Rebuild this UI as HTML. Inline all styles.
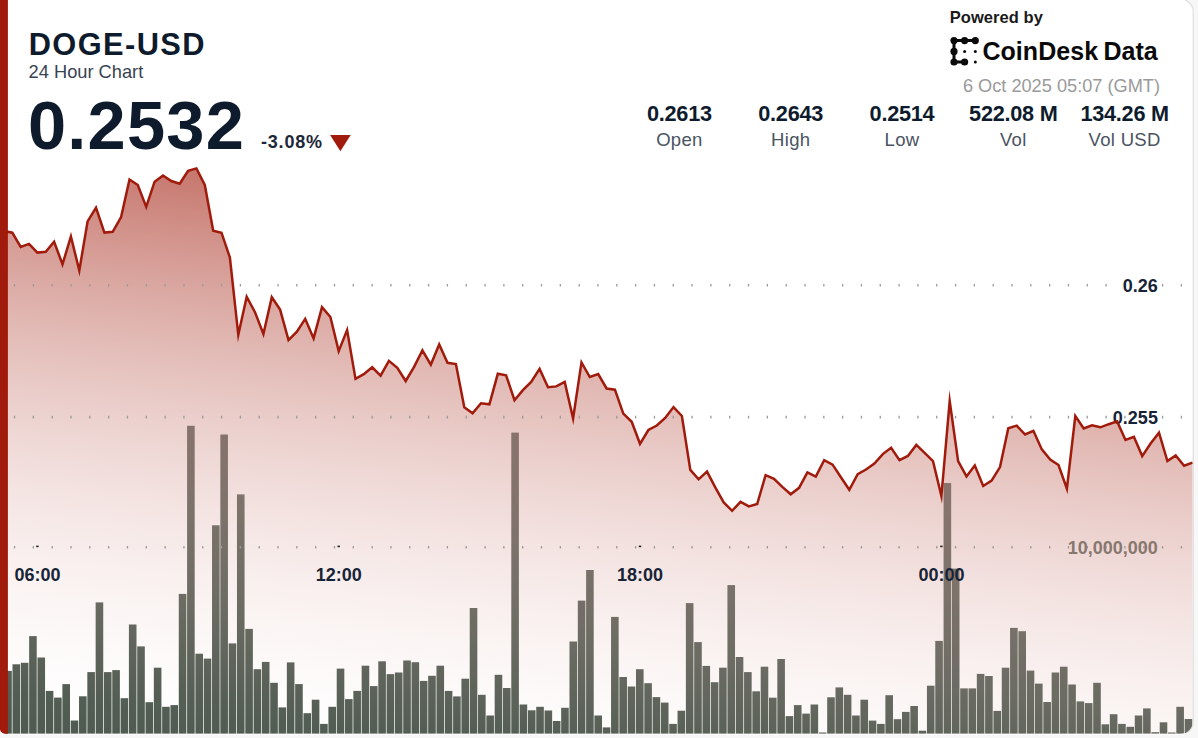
<!DOCTYPE html>
<html><head><meta charset="utf-8"><title>DOGE-USD 24 Hour Chart</title>
<style>
html,body{margin:0;padding:0;background:#f7f7f7;}
body{width:1198px;height:738px;overflow:hidden;position:relative;font-family:"Liberation Sans",sans-serif;}
svg{position:absolute;left:0;top:0;display:block;}
text{font-family:"Liberation Sans",sans-serif;}
.ax{font-size:18px;font-weight:bold;fill:#172336;}
.sv{font-size:21.7px;font-weight:bold;fill:#0e1b2c;text-anchor:middle;letter-spacing:-0.25px;}
.sl{font-size:18.5px;fill:#4a5361;text-anchor:middle;letter-spacing:0.3px;}
</style></head><body>
<svg width="1198" height="738" viewBox="0 0 1198 738">
<defs>
<clipPath id="card"><path d="M-2,-3 L1180,-1.2 A12.8,12.8 0 0 1 1192.8,11.6 L1192.8,721.7 A12,12 0 0 1 1180.8,733.7 L6,733.7 Q-0.3,733.7 -0.3,727.2 L-2,-3 Z"/></clipPath>
<linearGradient id="ag" x1="100" y1="168" x2="35.2" y2="764.6" gradientUnits="userSpaceOnUse">
<stop offset="0.00" stop-color="#a01b0b" stop-opacity="0.5840"/><stop offset="0.05" stop-color="#a01b0b" stop-opacity="0.5271"/><stop offset="0.10" stop-color="#a01b0b" stop-opacity="0.4730"/><stop offset="0.15" stop-color="#a01b0b" stop-opacity="0.4219"/><stop offset="0.20" stop-color="#a01b0b" stop-opacity="0.3738"/><stop offset="0.25" stop-color="#a01b0b" stop-opacity="0.3285"/><stop offset="0.30" stop-color="#a01b0b" stop-opacity="0.2862"/><stop offset="0.35" stop-color="#a01b0b" stop-opacity="0.2467"/><stop offset="0.40" stop-color="#a01b0b" stop-opacity="0.2102"/><stop offset="0.45" stop-color="#a01b0b" stop-opacity="0.1767"/><stop offset="0.50" stop-color="#a01b0b" stop-opacity="0.1460"/><stop offset="0.55" stop-color="#a01b0b" stop-opacity="0.1183"/><stop offset="0.60" stop-color="#a01b0b" stop-opacity="0.0934"/><stop offset="0.65" stop-color="#a01b0b" stop-opacity="0.0715"/><stop offset="0.70" stop-color="#a01b0b" stop-opacity="0.0526"/><stop offset="0.75" stop-color="#a01b0b" stop-opacity="0.0365"/><stop offset="0.80" stop-color="#a01b0b" stop-opacity="0.0234"/><stop offset="0.85" stop-color="#a01b0b" stop-opacity="0.0131"/><stop offset="0.90" stop-color="#a01b0b" stop-opacity="0.0058"/><stop offset="0.95" stop-color="#a01b0b" stop-opacity="0.0015"/><stop offset="1.00" stop-color="#a01b0b" stop-opacity="0.0000"/>
</linearGradient>
<linearGradient id="bg" x1="100" y1="168" x2="35.2" y2="764.6" gradientUnits="userSpaceOnUse">
<stop offset="0.30" stop-color="#8a746d"/>
<stop offset="0.418" stop-color="#85736c"/>
<stop offset="0.542" stop-color="#7d736b"/>
<stop offset="0.699" stop-color="#6c6c63"/>
<stop offset="0.882" stop-color="#525d53"/>
<stop offset="1" stop-color="#4c584d"/>
</linearGradient>
</defs>
<rect x="0" y="0" width="1198" height="738" fill="#f7f7f7"/>
<path d="M-2,-3 L1180,-1.2 A13.3,13.3 0 0 1 1193.3,12.1 L1193.3,722.2 A12.8,12.8 0 0 1 1180.5,735 L6,735 Q-0.3,735 -0.3,728 L-2,-3 Z" fill="#ffffff"/>
<path d="M1140,-1.2 L1180,-1.2 A13.3,13.3 0 0 1 1193.3,12.1 L1193.3,722.2 A12.8,12.8 0 0 1 1186,733" fill="none" stroke="#e1e1e1" stroke-width="1.3"/>
<g clip-path="url(#card)">
<path d="M3.9,733.8 L3.9,231.0 L12.3,232.7 L20.7,246.9 L29.0,243.9 L37.4,252.6 L45.8,251.8 L54.1,241.8 L62.5,264.3 L70.9,236.5 L79.3,270.5 L87.6,221.4 L96.0,207.6 L104.4,232.6 L112.7,231.8 L121.1,217.0 L129.5,179.5 L137.8,185.0 L146.2,206.9 L154.6,181.7 L163.0,175.5 L171.3,181.0 L179.7,183.7 L188.1,170.8 L196.4,168.4 L204.8,185.0 L213.2,230.8 L221.5,232.7 L229.9,257.6 L238.3,334.8 L246.7,296.7 L255.0,312.2 L263.4,334.0 L271.8,297.2 L280.1,309.6 L288.5,340.1 L296.9,331.6 L305.2,318.8 L313.6,338.4 L322.0,307.1 L330.4,317.0 L338.7,351.1 L347.1,330.0 L355.5,378.9 L363.8,374.2 L372.2,367.3 L380.6,375.6 L388.9,360.9 L397.3,367.8 L405.7,381.0 L414.1,366.8 L422.4,350.4 L430.8,364.7 L439.2,344.4 L447.5,362.8 L455.9,364.1 L464.3,407.3 L472.6,413.3 L481.0,403.3 L489.4,404.3 L497.8,373.8 L506.1,375.3 L514.5,400.2 L522.9,390.2 L531.2,382.0 L539.6,368.9 L548.0,387.2 L556.3,386.4 L564.7,381.9 L573.1,418.5 L581.5,362.4 L589.8,377.0 L598.2,374.1 L606.6,388.5 L614.9,389.7 L623.3,413.6 L631.7,421.8 L640.0,443.8 L648.4,430.0 L656.8,425.5 L665.2,418.0 L673.5,407.1 L681.9,416.0 L690.3,469.9 L698.6,479.3 L707.0,471.6 L715.4,487.7 L723.7,502.4 L732.1,510.8 L740.5,501.8 L748.9,506.4 L757.2,504.0 L765.6,475.1 L774.0,478.8 L782.3,486.9 L790.7,494.3 L799.1,487.8 L807.4,472.4 L815.8,476.6 L824.2,460.1 L832.6,464.6 L840.9,477.2 L849.3,489.8 L857.7,474.1 L866.0,469.5 L874.4,463.6 L882.8,454.1 L891.1,447.7 L899.5,460.1 L907.9,455.9 L916.3,444.9 L924.6,452.9 L933.0,461.2 L941.4,496.0 L949.7,401.0 L958.1,461.2 L966.5,476.4 L974.8,465.6 L983.2,486.0 L991.6,480.6 L1000.0,467.1 L1008.3,428.2 L1016.7,425.6 L1025.1,434.5 L1033.4,430.8 L1041.8,449.4 L1050.2,459.6 L1058.5,465.0 L1066.9,488.7 L1075.3,416.1 L1083.7,428.5 L1092.0,425.3 L1100.4,427.3 L1108.8,424.2 L1117.1,421.4 L1125.5,440.0 L1133.9,436.8 L1142.2,456.1 L1150.6,443.5 L1159.0,432.7 L1167.4,461.1 L1175.7,455.4 L1184.1,465.7 L1192.5,462.6 L1192.5,733.8 Z" fill="url(#ag)"/>
<g fill="url(#bg)"><rect x="4.20" y="670.9" width="7.6" height="62.9"/><rect x="12.51" y="664.3" width="7.6" height="69.5"/><rect x="20.83" y="662.8" width="7.6" height="71.0"/><rect x="29.14" y="636.1" width="7.6" height="97.7"/><rect x="37.45" y="657.5" width="7.6" height="76.3"/><rect x="45.77" y="690.9" width="7.6" height="42.9"/><rect x="54.08" y="697.6" width="7.6" height="36.2"/><rect x="62.39" y="684.1" width="7.6" height="49.7"/><rect x="70.70" y="720.5" width="7.6" height="13.3"/><rect x="79.02" y="696.3" width="7.6" height="37.5"/><rect x="87.33" y="672.1" width="7.6" height="61.7"/><rect x="95.64" y="602.4" width="7.6" height="131.4"/><rect x="103.96" y="672.1" width="7.6" height="61.7"/><rect x="112.27" y="670.1" width="7.6" height="63.7"/><rect x="120.58" y="698.2" width="7.6" height="35.6"/><rect x="128.90" y="624.5" width="7.6" height="109.3"/><rect x="137.21" y="646.4" width="7.6" height="87.4"/><rect x="145.52" y="702.2" width="7.6" height="31.6"/><rect x="153.83" y="667.7" width="7.6" height="66.1"/><rect x="162.15" y="706.8" width="7.6" height="27.0"/><rect x="170.46" y="705.1" width="7.6" height="28.7"/><rect x="178.77" y="593.9" width="7.6" height="139.9"/><rect x="187.09" y="425.8" width="7.6" height="308.0"/><rect x="195.40" y="653.7" width="7.6" height="80.1"/><rect x="203.71" y="658.6" width="7.6" height="75.2"/><rect x="212.03" y="525.3" width="7.6" height="208.5"/><rect x="220.34" y="434.5" width="7.6" height="299.3"/><rect x="228.65" y="643.4" width="7.6" height="90.4"/><rect x="236.96" y="494.4" width="7.6" height="239.4"/><rect x="245.28" y="628.9" width="7.6" height="104.9"/><rect x="253.59" y="669.2" width="7.6" height="64.6"/><rect x="261.90" y="661.9" width="7.6" height="71.9"/><rect x="270.22" y="682.8" width="7.6" height="51.0"/><rect x="278.53" y="707.4" width="7.6" height="26.4"/><rect x="286.84" y="662.4" width="7.6" height="71.4"/><rect x="295.16" y="684.1" width="7.6" height="49.7"/><rect x="303.47" y="713.2" width="7.6" height="20.6"/><rect x="311.78" y="699.7" width="7.6" height="34.1"/><rect x="320.09" y="723.9" width="7.6" height="9.9"/><rect x="328.41" y="706.8" width="7.6" height="27.0"/><rect x="336.72" y="668.6" width="7.6" height="65.2"/><rect x="345.03" y="699.1" width="7.6" height="34.7"/><rect x="353.35" y="690.9" width="7.6" height="42.9"/><rect x="361.66" y="665.7" width="7.6" height="68.1"/><rect x="369.97" y="686.1" width="7.6" height="47.7"/><rect x="378.29" y="661.3" width="7.6" height="72.5"/><rect x="386.60" y="674.1" width="7.6" height="59.7"/><rect x="394.91" y="672.5" width="7.6" height="61.3"/><rect x="403.22" y="660.5" width="7.6" height="73.3"/><rect x="411.54" y="662.2" width="7.6" height="71.6"/><rect x="419.85" y="680.9" width="7.6" height="52.9"/><rect x="428.16" y="675.8" width="7.6" height="58.0"/><rect x="436.48" y="665.7" width="7.6" height="68.1"/><rect x="444.79" y="690.9" width="7.6" height="42.9"/><rect x="453.10" y="696.4" width="7.6" height="37.4"/><rect x="461.42" y="678.7" width="7.6" height="55.1"/><rect x="469.73" y="608.0" width="7.6" height="125.8"/><rect x="478.04" y="694.8" width="7.6" height="39.0"/><rect x="486.35" y="715.5" width="7.6" height="18.3"/><rect x="494.67" y="674.8" width="7.6" height="59.0"/><rect x="502.98" y="688.0" width="7.6" height="45.8"/><rect x="511.29" y="432.6" width="7.6" height="301.2"/><rect x="519.61" y="704.5" width="7.6" height="29.3"/><rect x="527.92" y="710.3" width="7.6" height="23.5"/><rect x="536.23" y="706.8" width="7.6" height="27.0"/><rect x="544.55" y="710.5" width="7.6" height="23.3"/><rect x="552.86" y="721.0" width="7.6" height="12.8"/><rect x="561.17" y="707.8" width="7.6" height="26.0"/><rect x="569.48" y="641.5" width="7.6" height="92.3"/><rect x="577.80" y="600.6" width="7.6" height="133.2"/><rect x="586.11" y="570.0" width="7.6" height="163.8"/><rect x="594.42" y="715.5" width="7.6" height="18.3"/><rect x="602.74" y="727.4" width="7.6" height="6.4"/><rect x="611.05" y="616.9" width="7.6" height="116.9"/><rect x="619.36" y="677.0" width="7.6" height="56.8"/><rect x="627.68" y="686.5" width="7.6" height="47.3"/><rect x="635.99" y="669.2" width="7.6" height="64.6"/><rect x="644.30" y="683.2" width="7.6" height="50.6"/><rect x="652.61" y="697.1" width="7.6" height="36.7"/><rect x="660.93" y="702.6" width="7.6" height="31.2"/><rect x="669.24" y="723.9" width="7.6" height="9.9"/><rect x="677.55" y="710.7" width="7.6" height="23.1"/><rect x="685.87" y="603.1" width="7.6" height="130.7"/><rect x="694.18" y="642.1" width="7.6" height="91.7"/><rect x="702.49" y="665.9" width="7.6" height="67.9"/><rect x="710.81" y="682.2" width="7.6" height="51.6"/><rect x="719.12" y="667.7" width="7.6" height="66.1"/><rect x="727.43" y="585.1" width="7.6" height="148.7"/><rect x="735.74" y="657.0" width="7.6" height="76.8"/><rect x="744.06" y="672.1" width="7.6" height="61.7"/><rect x="752.37" y="691.3" width="7.6" height="42.5"/><rect x="760.68" y="666.7" width="7.6" height="67.1"/><rect x="769.00" y="697.7" width="7.6" height="36.1"/><rect x="777.31" y="659.0" width="7.6" height="74.8"/><rect x="785.62" y="716.1" width="7.6" height="17.7"/><rect x="793.94" y="705.1" width="7.6" height="28.7"/><rect x="802.25" y="713.6" width="7.6" height="20.2"/><rect x="810.56" y="704.5" width="7.6" height="29.3"/><rect x="818.87" y="732.5" width="7.6" height="1.3"/><rect x="827.19" y="697.3" width="7.6" height="36.5"/><rect x="835.50" y="687.4" width="7.6" height="46.4"/><rect x="843.81" y="694.8" width="7.6" height="39.0"/><rect x="852.13" y="715.5" width="7.6" height="18.3"/><rect x="860.44" y="699.7" width="7.6" height="34.1"/><rect x="868.75" y="720.6" width="7.6" height="13.2"/><rect x="877.07" y="723.9" width="7.6" height="9.9"/><rect x="885.38" y="695.2" width="7.6" height="38.6"/><rect x="893.69" y="719.2" width="7.6" height="14.6"/><rect x="902.00" y="711.9" width="7.6" height="21.9"/><rect x="910.32" y="706.0" width="7.6" height="27.8"/><rect x="918.63" y="730.7" width="7.6" height="3.1"/><rect x="926.94" y="685.7" width="7.6" height="48.1"/><rect x="935.26" y="640.9" width="7.6" height="92.9"/><rect x="943.57" y="483.0" width="7.6" height="250.8"/><rect x="951.88" y="568.6" width="7.6" height="165.2"/><rect x="960.20" y="688.4" width="7.6" height="45.4"/><rect x="968.51" y="688.4" width="7.6" height="45.4"/><rect x="976.82" y="673.9" width="7.6" height="59.9"/><rect x="985.13" y="676.0" width="7.6" height="57.8"/><rect x="993.45" y="710.9" width="7.6" height="22.9"/><rect x="1001.76" y="667.7" width="7.6" height="66.1"/><rect x="1010.07" y="627.9" width="7.6" height="105.9"/><rect x="1018.39" y="631.2" width="7.6" height="102.6"/><rect x="1026.70" y="670.6" width="7.6" height="63.2"/><rect x="1035.01" y="683.6" width="7.6" height="50.2"/><rect x="1043.33" y="702.0" width="7.6" height="31.8"/><rect x="1051.64" y="672.5" width="7.6" height="61.3"/><rect x="1059.95" y="666.7" width="7.6" height="67.1"/><rect x="1068.26" y="684.5" width="7.6" height="49.3"/><rect x="1076.58" y="701.4" width="7.6" height="32.4"/><rect x="1084.89" y="703.1" width="7.6" height="30.7"/><rect x="1093.20" y="682.8" width="7.6" height="51.0"/><rect x="1101.52" y="724.3" width="7.6" height="9.5"/><rect x="1109.83" y="714.2" width="7.6" height="19.6"/><rect x="1118.14" y="723.9" width="7.6" height="9.9"/><rect x="1126.46" y="726.8" width="7.6" height="7.0"/><rect x="1134.77" y="715.5" width="7.6" height="18.3"/><rect x="1143.08" y="708.4" width="7.6" height="25.4"/><rect x="1151.39" y="732.2" width="7.6" height="1.6"/><rect x="1159.71" y="722.3" width="7.6" height="11.5"/><rect x="1168.02" y="732.5" width="7.6" height="1.3"/><rect x="1176.33" y="706.8" width="7.6" height="27.0"/><rect x="1184.65" y="719.0" width="7.6" height="14.8"/></g>
<line x1="13.9" x2="1200" y1="285.3" y2="285.3" stroke="#9a9a9a" stroke-width="2.6" stroke-dasharray="1.3 17.52"/><line x1="13.9" x2="1200" y1="417.1" y2="417.1" stroke="#9a9a9a" stroke-width="2.6" stroke-dasharray="1.3 17.52"/><line x1="13.9" x2="1200" y1="547.3" y2="547.3" stroke="#9a9a9a" stroke-width="2.6" stroke-dasharray="1.3 17.52"/>
<text x="1157.9" y="291.8" class="ax" text-anchor="end">0.26</text>
<text x="1157.9" y="423.5" class="ax" text-anchor="end">0.255</text>
<text x="1157.9" y="553.5" class="ax" text-anchor="end" style="fill:#87776f">10,000,000</text>
<polyline points="3.9,231.0 12.3,232.7 20.7,246.9 29.0,243.9 37.4,252.6 45.8,251.8 54.1,241.8 62.5,264.3 70.9,236.5 79.3,270.5 87.6,221.4 96.0,207.6 104.4,232.6 112.7,231.8 121.1,217.0 129.5,179.5 137.8,185.0 146.2,206.9 154.6,181.7 163.0,175.5 171.3,181.0 179.7,183.7 188.1,170.8 196.4,168.4 204.8,185.0 213.2,230.8 221.5,232.7 229.9,257.6 238.3,334.8 246.7,296.7 255.0,312.2 263.4,334.0 271.8,297.2 280.1,309.6 288.5,340.1 296.9,331.6 305.2,318.8 313.6,338.4 322.0,307.1 330.4,317.0 338.7,351.1 347.1,330.0 355.5,378.9 363.8,374.2 372.2,367.3 380.6,375.6 388.9,360.9 397.3,367.8 405.7,381.0 414.1,366.8 422.4,350.4 430.8,364.7 439.2,344.4 447.5,362.8 455.9,364.1 464.3,407.3 472.6,413.3 481.0,403.3 489.4,404.3 497.8,373.8 506.1,375.3 514.5,400.2 522.9,390.2 531.2,382.0 539.6,368.9 548.0,387.2 556.3,386.4 564.7,381.9 573.1,418.5 581.5,362.4 589.8,377.0 598.2,374.1 606.6,388.5 614.9,389.7 623.3,413.6 631.7,421.8 640.0,443.8 648.4,430.0 656.8,425.5 665.2,418.0 673.5,407.1 681.9,416.0 690.3,469.9 698.6,479.3 707.0,471.6 715.4,487.7 723.7,502.4 732.1,510.8 740.5,501.8 748.9,506.4 757.2,504.0 765.6,475.1 774.0,478.8 782.3,486.9 790.7,494.3 799.1,487.8 807.4,472.4 815.8,476.6 824.2,460.1 832.6,464.6 840.9,477.2 849.3,489.8 857.7,474.1 866.0,469.5 874.4,463.6 882.8,454.1 891.1,447.7 899.5,460.1 907.9,455.9 916.3,444.9 924.6,452.9 933.0,461.2 941.4,496.0 949.7,401.0 958.1,461.2 966.5,476.4 974.8,465.6 983.2,486.0 991.6,480.6 1000.0,467.1 1008.3,428.2 1016.7,425.6 1025.1,434.5 1033.4,430.8 1041.8,449.4 1050.2,459.6 1058.5,465.0 1066.9,488.7 1075.3,416.1 1083.7,428.5 1092.0,425.3 1100.4,427.3 1108.8,424.2 1117.1,421.4 1125.5,440.0 1133.9,436.8 1142.2,456.1 1150.6,443.5 1159.0,432.7 1167.4,461.1 1175.7,455.4 1184.1,465.7 1192.5,462.6" fill="none" stroke="#a01b0b" stroke-width="2.5" stroke-linejoin="miter" stroke-miterlimit="10"/>
<text x="37.4" y="581" class="ax" text-anchor="middle">06:00</text><rect x="36.2" y="545.6" width="2.4" height="1.6" fill="#222"/><text x="338.7" y="581" class="ax" text-anchor="middle">12:00</text><rect x="337.5" y="545.6" width="2.4" height="1.6" fill="#222"/><text x="640.0" y="581" class="ax" text-anchor="middle">18:00</text><rect x="638.8" y="545.6" width="2.4" height="1.6" fill="#222"/><text x="941.4" y="581" class="ax" text-anchor="middle">00:00</text><rect x="940.2" y="545.6" width="2.4" height="1.6" fill="#222"/>
<rect x="0" y="-2" width="7.9" height="742" fill="#a01b0b"/>
</g>
<text x="28.7" y="55.1" style="font-size:30.8px;font-weight:bold;fill:#0e1b2c;letter-spacing:1.4px">DOGE-USD</text>
<text x="28.6" y="78.2" style="font-size:18.25px;fill:#394352">24 Hour Chart</text>
<text x="28.0" y="148.7" style="font-size:68.6px;font-weight:bold;fill:#0e1b2c;letter-spacing:1.2px">0.2532</text>
<text x="261" y="148" style="font-size:18px;font-weight:bold;fill:#1c2838;letter-spacing:0.8px">-3.08%</text>
<path d="M330.1,135 L350.7,135 L340.4,151.2 Z" fill="#a01b0b"/>
<text x="679.4" y="120.6" class="sv">0.2613</text><text x="679.4" y="146.3" class="sl">Open</text><text x="790.7" y="120.6" class="sv">0.2643</text><text x="790.7" y="146.3" class="sl">High</text><text x="902.0" y="120.6" class="sv">0.2514</text><text x="902.0" y="146.3" class="sl">Low</text><text x="1013.3" y="120.6" class="sv">522.08 M</text><text x="1013.3" y="146.3" class="sl">Vol</text><text x="1124.6" y="120.6" class="sv">134.26 M</text><text x="1124.6" y="146.3" class="sl">Vol USD</text>
<text x="949.8" y="22.8" style="font-size:16.5px;font-weight:bold;fill:#1a1a1a;letter-spacing:0.05px">Powered by</text>
<g fill="#0a0a0a" stroke="#0a0a0a">
<path d="M975.3,40.6 L954,40.6 L954,62 L964.6,62" fill="none" stroke-width="3.0" stroke-linecap="round" stroke-linejoin="round"/>
<g stroke="none"><circle cx="954" cy="40.6" r="3.6"/><circle cx="964.6" cy="40.6" r="3.6"/><circle cx="975.3" cy="40.6" r="3.6"/><circle cx="954" cy="51.4" r="3.6"/><circle cx="954" cy="62" r="3.6"/><circle cx="964.6" cy="62" r="3.6"/>
<circle cx="964.6" cy="51.4" r="1.5"/><circle cx="975.3" cy="51.4" r="1.5"/><circle cx="975.3" cy="62" r="1.5"/></g>
</g>
<text x="982.4" y="60.4" style="font-size:25px;font-weight:bold;fill:#0a0a0a;letter-spacing:0.05px">CoinDesk<tspan dx="5.3">Data</tspan></text>
<text x="1160" y="91.7" text-anchor="end" style="font-size:18.2px;fill:#9a9a9a">6 Oct 2025 05:07 (GMT)</text>
</svg>
</body></html>
